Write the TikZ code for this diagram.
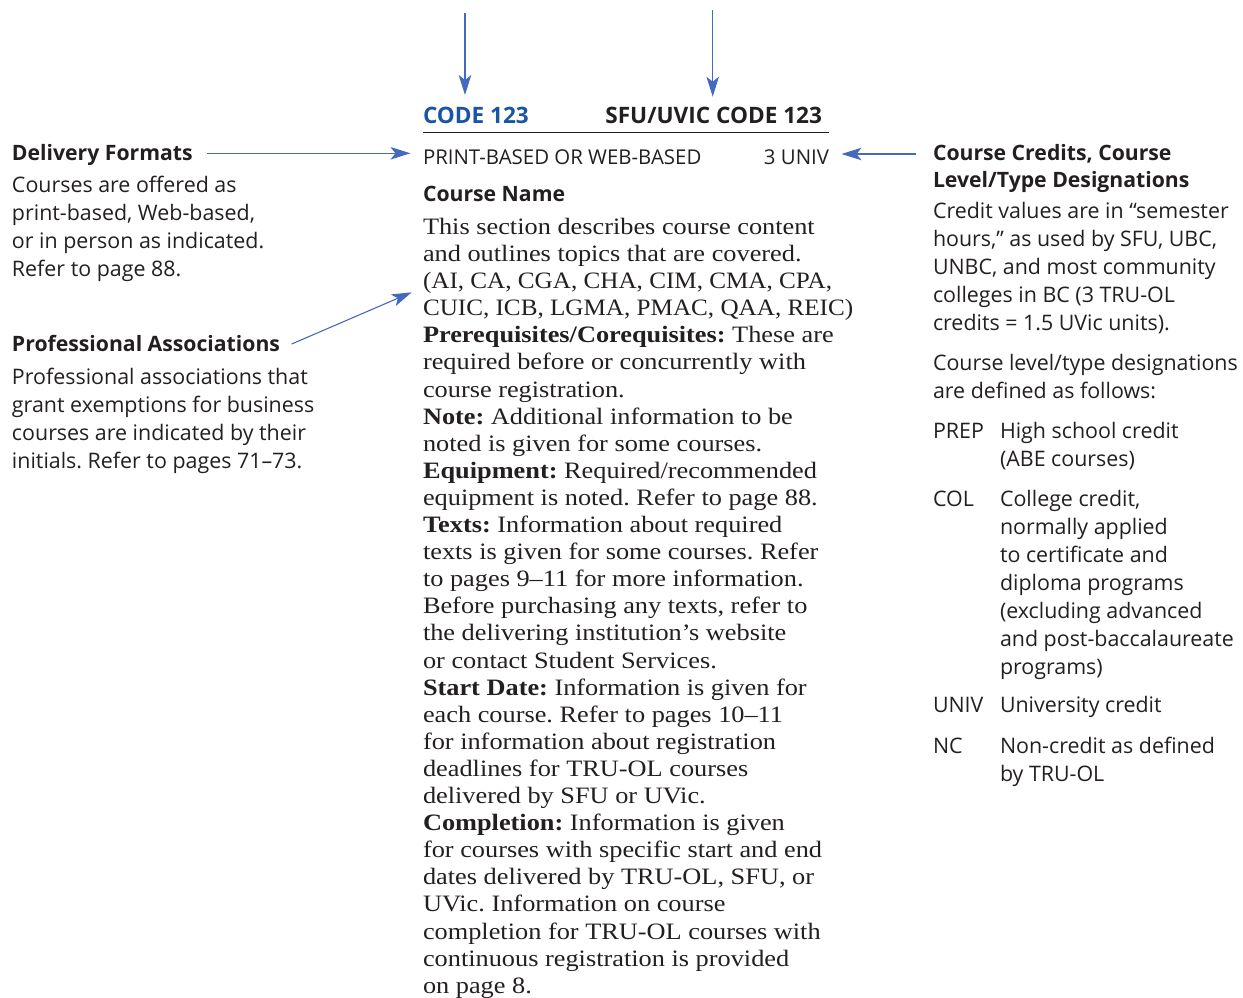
\documentclass[tikz,border=0pt]{standalone}
\usepackage{fontspec}
\setmainfont{Open Sans}
\newfontfamily\serif{Liberation Serif}[FakeStretch=1.12]
\newfontfamily\serifcaps{Liberation Serif}[FakeStretch=1.07]
\usetikzlibrary{arrows.meta}
\definecolor{arrblue}{RGB}{68,106,190}
\definecolor{codeblue}{RGB}{26,84,164}
\definecolor{ink}{RGB}{35,31,32}
\tikzset{
  arr/.style={draw=arrblue, line width=1.1pt, -{Stealth[length=20pt,width=12.5pt,inset=5pt]}},
  txt/.style={inner sep=0pt, outer sep=0pt, text=ink},
  sanshead/.style={txt, anchor=base west, font=\fontsize{21.2}{27}\selectfont\bfseries\frenchspacing},
  sanshead2/.style={txt, anchor=north west, align=left, font=\fontsize{21.2}{27}\selectfont\bfseries\frenchspacing},
  sansline/.style={txt, anchor=base west, font=\fontsize{21.4}{28}\selectfont\frenchspacing},
  sansbody/.style={txt, anchor=north west, align=left, font=\fontsize{21.4}{28}\selectfont\frenchspacing},
  serifbody/.style={txt, anchor=north west, align=left, font=\fontsize{23.5}{27.1}\selectfont\serif\frenchspacing},
  codestyle/.style={txt, font=\fontsize{22.6}{27}\selectfont\bfseries},
  capline/.style={txt, font=\fontsize{20.4}{26}\selectfont},
}
\begin{document}
\frenchspacing
\begin{tikzpicture}[x=1pt,y=-1pt]
\useasboundingbox (0,0) rectangle (1243,998);

% ---------- centre column header ----------
\node[codestyle, anchor=base west, text=codeblue] (code) at (423,124) {CODE 123};
\node[codestyle, anchor=base east] (sfu) at (822,124) {SFU/UVIC CODE 123};
\draw[ink, line width=1.3pt] (422.7,132.7) -- (829.3,132.7);
\node[capline, anchor=base west] (fmt) at (423,164.3) {PRINT-BASED OR WEB-BASED};
\node[capline, anchor=base east] (cred) at (829,164.3) {3 UNIV};
\node[sanshead] (cname) at (423,201.7) {Course Name};

% ---------- centre column body ----------
\node[serifbody] (desc) at (423,215.5) {\strut This section describes course content\\
and outlines topics that are covered.\\
{\serifcaps (AI, CA, CGA, CHA, CIM, CMA, CPA,}\\
{\serifcaps CUIC, ICB, LGMA, PMAC, QAA, REIC)}\\
\textbf{Prerequisites/Corequisites:} These are\\
required before or concurrently with\\
course registration.\\
\textbf{Note:} Additional information to be\\
noted is given for some courses.\\
\textbf{Equipment:} Required/recommended\\
equipment is noted. Refer to page 88.\\
\textbf{Texts:} Information about required\\
texts is given for some courses. Refer\\
to pages 9–11 for more information.\\
Before purchasing any texts, refer to\\
the delivering institution’s website\\
or contact Student Services.\\
\textbf{Start Date:} Information is given for\\
each course. Refer to pages 10–11\\
for information about registration\\
deadlines for TRU-OL courses\\
delivered by SFU or UVic.\\
\textbf{Completion:} Information is given\\
for courses with specific start and end\\
dates delivered by TRU-OL, SFU, or\\
UVic. Information on course\\
completion for TRU-OL courses with\\
continuous registration is provided\\
on page 8.};

% ---------- left column ----------
\node[sanshead] (dfh) at (12,160.7) {Delivery Formats};
\node[sansbody] (dfb) at (12,172.7) {\strut Courses are offered as\\
print-based, Web-based,\\
or in person as indicated.\\
Refer to page 88.};
\node[sanshead] (pah) at (12,351.7) {Professional Associations};
\node[sansbody] (pab) at (12,364.4) {\strut Professional associations that\\
grant exemptions for business\\
courses are indicated by their\\
initials. Refer to pages 71–73.};

% ---------- right column ----------
\node[sanshead2] (cch) at (933,141.8) {\strut Course Credits, Course\\
Level/Type Designations};
\node[sansbody] (ccb) at (933,198.7) {\strut Credit values are in “semester\\
hours,” as used by SFU, UBC,\\
UNBC, and most community\\
colleges in BC (3 TRU-OL\\
credits = 1.5 UVic units).};
\node[sansbody] (ccd) at (933,351.1) {\strut Course level/type designations\\
are defined as follows:};
\node[sansline] (prep) at (933,438.3) {PREP};
\node[sansbody] (prept) at (1000,418.7) {\strut High school credit\\
(ABE courses)};
\node[sansline] (col) at (933,506) {COL};
\node[sansbody] (colt) at (1000,486.4) {\strut College credit,\\
normally applied\\
to certificate and\\
diploma programs\\
(excluding advanced\\
and post-baccalaureate\\
programs)};
\node[sansline] (univ) at (933,712.3) {UNIV};
\node[sansline] (univt) at (1000,712.3) {University credit};
\node[sansline] (nc) at (933,753.3) {NC};
\node[sansbody] (nct) at (1000,733.7) {\strut Non-credit as defined\\
by TRU-OL};

% ---------- arrows ----------
\coordinate (a1s) at (465,12.7);
\coordinate (a1e) at (465,95);
\coordinate (a2s) at (712.7,10);
\coordinate (a2e) at (712.7,96.7);
\coordinate (a3s) at (207,153.3);
\coordinate (a3e) at (410.5,153.3);
\coordinate (a4s) at (291.7,344);
\coordinate (a4e) at (411.7,292.3);
\coordinate (a5s) at (916,154);
\coordinate (a5e) at (841.5,154);
\draw[arr] (a1s) -- (a1e);
\draw[arr] (a2s) -- (a2e);
\draw[arr] (a3s) -- (a3e);
\draw[arr] (a4s) -- (a4e);
\draw[arr] (a5s) -- (a5e);
\end{tikzpicture}
\end{document}
